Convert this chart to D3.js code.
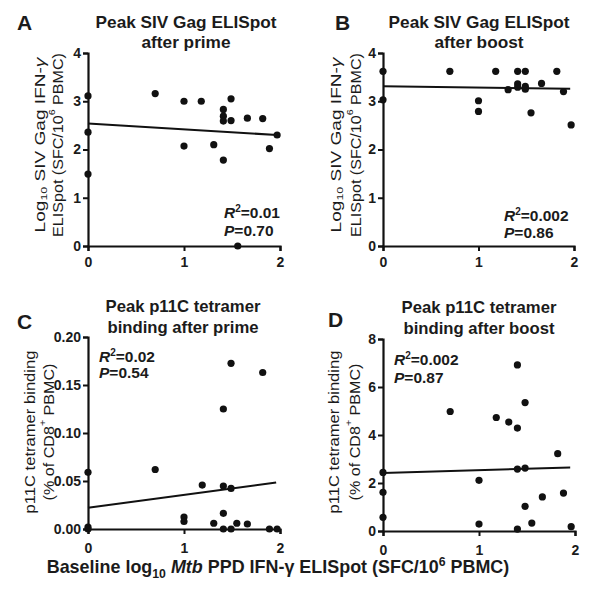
<!DOCTYPE html>
<html><head><meta charset="utf-8">
<script src="https://cdn.jsdelivr.net/npm/d3@7"></script>
<style>
body{margin:0;background:#fff}
svg{display:block}
text{font-family:"Liberation Sans",Arial,sans-serif;fill:#1b1b1b}
</style>
</head><body>
<svg id="chart" width="600" height="590"></svg>
<script>
// ---- data ----
const xTicks = [0, 1, 2];
const yTicksAB = [0, 1, 2, 3, 4];
const yTicksC = [0, 0.05, 0.10, 0.15, 0.20];
const yTicksD = [0, 2, 4, 6, 8];

const xA = [0,0,0,0.70,1,1,1.18,1.31,1.41,1.41,1.41,1.41,1.49,1.49,1.56,1.66,1.82,1.89,1.97];
const yA = [3.11,2.36,1.49,3.16,3.0,2.07,3.0,2.10,2.83,2.69,2.59,1.78,3.05,2.60,0,2.65,2.64,2.02,2.30];

const xB = [0,0,0.70,1,1,1.18,1.31,1.41,1.41,1.41,1.49,1.49,1.49,1.55,1.66,1.82,1.89,1.97];
const yB = [3.62,3.03,3.62,3.01,2.79,3.62,3.24,3.62,3.36,3.29,3.62,3.31,3.25,2.76,3.37,3.62,3.20,2.51];

const xC = [0,0,0,0.70,1,1,1.19,1.31,1.41,1.41,1.41,1.41,1.49,1.49,1.49,1.55,1.66,1.82,1.89,1.97];
const yC = [0.059,0.002,0,0.062,0.0125,0.0078,0.0458,0.006,0.125,0.0447,0.0163,0,0.1726,0.0423,0,0.006,0.0052,0.163,0,0];

const xD = [0,0,0,0.70,1,1,1.18,1.31,1.40,1.40,1.40,1.40,1.48,1.48,1.48,1.55,1.66,1.82,1.88,1.96];
const yD = [2.44,1.61,0.57,4.98,2.11,0.29,4.73,4.54,6.92,4.29,2.58,0.08,5.35,2.62,1.03,0.33,1.42,3.22,1.58,0.18];

// regression lines: [intercept, slope, x end]
const fitA = [2.54, -0.122, 1.97];
const fitB = [3.31, -0.026, 1.96];
const fitC = [0.0222, 0.0134, 1.96];
const fitD = [2.42, 0.118, 1.95];

const statsA = ["0.01", "0.70"];
const statsB = ["0.002", "0.86"];
const statsC = ["0.02", "0.54"];
const statsD = ["0.002", "0.87"];

const titlesA = ["Peak SIV Gag ELISpot", "after prime"];
const titlesB = ["Peak SIV Gag ELISpot", "after boost"];
const titlesC = ["Peak p11C tetramer", "binding after prime"];
const titlesD = ["Peak p11C tetramer", "binding after boost"];

// ---- drawing ----
const svg = d3.select("#chart");

// stretch a text element along its own x direction to a target length
function stretch(t, target) {
  const len = t.node().getComputedTextLength();
  const k = target / len;
  t.attr("transform", `scale(${k.toFixed(4)},1)`);
  return k;
}

const panels = [
  {L:"A", xs:xA, ys:yA, fit:fitA, st:statsA, ti:titlesA, yt:yTicksAB, fmt:d3.format("d"),
   xr:[88,280], yr:[246,53], dom:[0,4], letter:[17,30], tl:[186,28,48], tlen:181,
   yl:[40,57.5,145], ylen:[175,184], stPos:[224,218,236], xpad:6, lab:"SIV"},
  {L:"B", xs:xB, ys:yB, fit:fitB, st:statsB, ti:titlesB, yt:yTicksAB, fmt:d3.format("d"),
   xr:[383,574], yr:[246,53], dom:[0,4], letter:[335,30], tl:[479,28,48], tlen:181,
   yl:[336,355,145], ylen:[175,184], stPos:[504,221,238], xpad:6, lab:"SIV"},
  {L:"C", xs:xC, ys:yC, fit:fitC, st:statsC, ti:titlesC, yt:yTicksC, fmt:d3.format(".2f"),
   xr:[88,280], yr:[529,337], dom:[0,0.2], letter:[17,329], tl:[183,312,333], tlen:155,
   yl:[30,48.5,432], ylen:[163,137], stPos:[99,362,378], xpad:9, lab:"p11C"},
  {L:"D", xs:xD, ys:yD, fit:fitD, st:statsD, ti:titlesD, yt:yTicksD, fmt:d3.format("d"),
   xr:[383,575], yr:[531,339], dom:[0,8], letter:[328,327], tl:[479,313,334], tlen:155,
   yl:[334,354,432], ylen:[163,137], stPos:[394,365,383], xpad:9, lab:"p11C"}
];

panels.forEach(p => {
  const g = svg.append("g");
  const x = d3.scaleLinear().domain([0,2]).range(p.xr);
  const y = d3.scaleLinear().domain(p.dom).range(p.yr);

  // axes
  const ax = g.append("g").attr("transform", `translate(0,${p.yr[0]})`)
    .call(d3.axisBottom(x).tickValues(xTicks).tickSizeOuter(0).tickSize(5).tickPadding(p.xpad).tickFormat(d3.format("d")));
  const ay = g.append("g").attr("transform", `translate(${p.xr[0]},0)`)
    .call(d3.axisLeft(y).tickValues(p.yt).tickSizeOuter(0).tickSize(5).tickPadding(2).tickFormat(p.fmt));
  [ax, ay].forEach(a => {
    a.select(".domain").attr("stroke", "#111").attr("stroke-width", 2.2);
    a.selectAll(".tick line").attr("stroke", "#111").attr("stroke-width", 2);
    a.selectAll(".tick text").attr("font-size", 14).attr("font-weight", "bold")
      .attr("font-family", '"Liberation Sans",Arial,sans-serif').attr("fill", "#1b1b1b");
  });

  // regression line
  g.append("line")
    .attr("x1", x(0)).attr("y1", y(p.fit[0]))
    .attr("x2", x(p.fit[2])).attr("y2", y(p.fit[0] + p.fit[1]*p.fit[2]))
    .attr("stroke", "#111").attr("stroke-width", 2);

  // points
  g.selectAll("circle.pt").data(d3.range(p.xs.length)).join("circle")
    .attr("class","pt")
    .attr("cx", i => x(p.xs[i])).attr("cy", i => y(p.ys[i]))
    .attr("r", 3.6).attr("fill", "#111");

  // panel letter
  g.append("text").attr("x", p.letter[0]).attr("y", p.letter[1])
    .attr("font-size", 21).attr("font-weight", "bold").text(p.L);

  // title (two lines, same horizontal stretch)
  let kT = 1;
  p.ti.forEach((t, i) => {
    const tg = g.append("g").attr("transform", `translate(${p.tl[0]},${p.tl[1+i]})`);
    const te = tg.append("text").attr("text-anchor", "middle").attr("font-size", 16.5)
      .attr("font-weight", "bold").text(t);
    if (i === 0) kT = stretch(te, p.tlen);
    else te.attr("transform", `scale(${kT.toFixed(4)},1)`);
  });

  // stats
  const s1 = g.append("text").attr("x", p.stPos[0]).attr("y", p.stPos[1]).attr("font-size", 15.5).attr("font-weight", "bold");
  s1.append("tspan").attr("font-style","italic").text("R");
  s1.append("tspan").attr("font-size", 10).attr("dy", -6).text("2");
  s1.append("tspan").attr("dy", 6).text("=" + p.st[0]);
  const s2 = g.append("text").attr("x", p.stPos[0]).attr("y", p.stPos[2]).attr("font-size", 15.5).attr("font-weight", "bold");
  s2.append("tspan").attr("font-style","italic").text("P");
  s2.append("tspan").text("=" + p.st[1]);

  // y axis label (two rotated lines, stretched along their length)
  const cy = p.yl[2];
  const g1 = g.append("g").attr("transform", `translate(${p.yl[0]},${cy}) rotate(-90)`);
  const g2 = g.append("g").attr("transform", `translate(${p.yl[1]},${cy}) rotate(-90)`);
  const l1 = g1.append("text").attr("text-anchor","middle").attr("dominant-baseline","central").attr("font-size", 14.5);
  const l2 = g2.append("text").attr("text-anchor","middle").attr("dominant-baseline","central").attr("font-size", 14.5);
  if (p.lab === "SIV") {
    l1.append("tspan").text("Log");
    l1.append("tspan").attr("font-size", 9.5).attr("dy", 4).text("10");
    l1.append("tspan").attr("dy", -4).text(" SIV Gag IFN-");
    l1.append("tspan").attr("font-style","italic").text("γ");
    l2.append("tspan").text("ELISpot (SFC/10");
    l2.append("tspan").attr("font-size", 9.5).attr("dy", -6).text("6");
    l2.append("tspan").attr("dy", 6).text(" PBMC)");
  } else {
    l1.text("p11C tetramer binding");
    l2.append("tspan").text("(% of  CD8");
    l2.append("tspan").attr("font-size", 9.5).attr("dy", -6).text("+");
    l2.append("tspan").attr("dy", 6).text(" PBMC)");
  }
  stretch(l1, p.ylen[0]);
  stretch(l2, p.ylen[1]);
});

// shared x-axis label
const xg = svg.append("g").attr("transform", "translate(278,573)");
const xl = xg.append("text").attr("text-anchor","middle")
  .attr("font-size", 17.5).attr("font-weight","bold");
xl.append("tspan").text("Baseline log");
xl.append("tspan").attr("font-size", 12).attr("dy", 5).text("10");
xl.append("tspan").attr("dy", -5).text(" ");
xl.append("tspan").attr("font-style","italic").text("Mtb");
xl.append("tspan").text(" PPD IFN-γ ELISpot (SFC/10");
xl.append("tspan").attr("font-size", 12).attr("dy", -7).text("6");
xl.append("tspan").attr("dy", 7).text(" PBMC)");
stretch(xl, 463);
</script>
</body></html>
